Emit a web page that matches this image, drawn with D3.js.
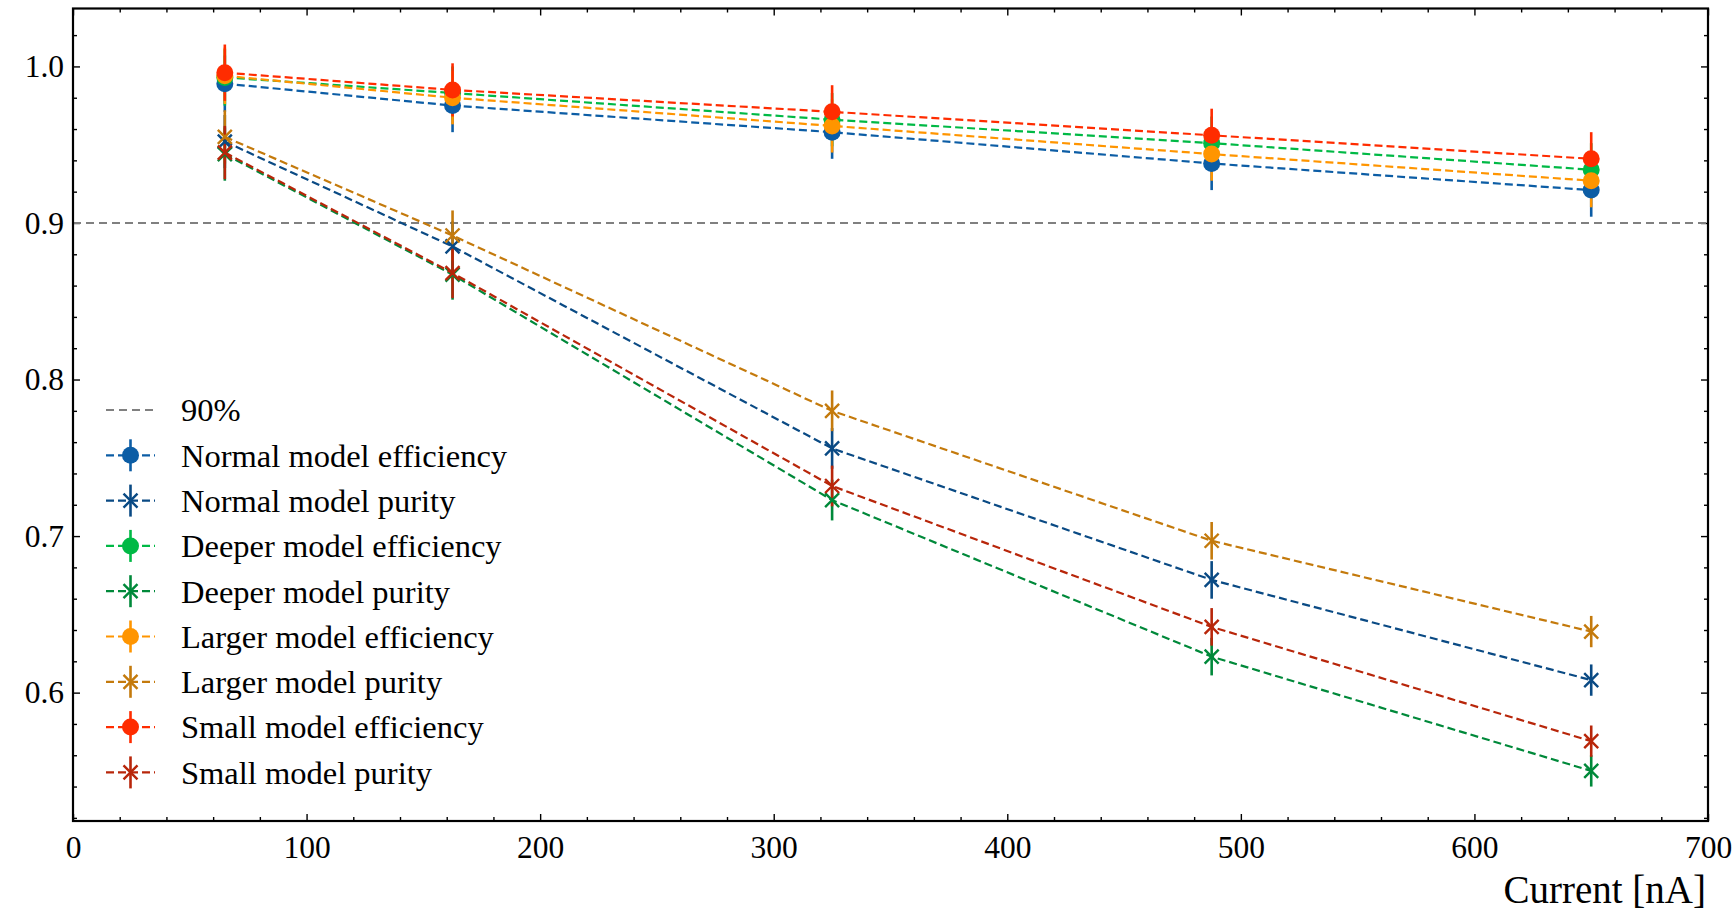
<!DOCTYPE html>
<html>
<head>
<meta charset="utf-8">
<script src="https://cdn.jsdelivr.net/npm/d3@7"></script>
<style>
body { margin: 0; background: #fff; }
text { font-family: "Liberation Serif", serif; fill: #000; }
</style>
</head>
<body>
<svg width="1734" height="912"></svg>
<script>
// beam current [nA]
var currents = [65, 162.5, 325, 487.5, 650];

var normalEff = [0.989, 0.975, 0.958, 0.938, 0.921];
var normalPur = [0.952, 0.885, 0.756, 0.672, 0.608];
var deeperEff = [0.993, 0.983, 0.966, 0.951, 0.934];
var deeperPur = [0.944, 0.867, 0.723, 0.623, 0.550];
var largerEff = [0.994, 0.980, 0.962, 0.944, 0.927];
var largerPur = [0.955, 0.892, 0.780, 0.697, 0.639];
var smallEff  = [0.996, 0.985, 0.971, 0.956, 0.941];
var smallPur  = [0.945, 0.868, 0.732, 0.642, 0.569];

var effErr = [0.018, 0.017, 0.017, 0.017, 0.017];
var purErr = [0.017, 0.016, 0.013, 0.012, 0.010];

var labels = ["Normal model efficiency", "Normal model purity",
              "Deeper model efficiency", "Deeper model purity",
              "Larger model efficiency", "Larger model purity",
              "Small model efficiency", "Small model purity"];
var colors = ["#0C5DA5", "#0A4A84", "#00B945", "#00893A",
              "#FF9500", "#C47A0C", "#FF2C00", "#B8260A"];

var threshold = 0.9, thresholdLabel = "90%";
var xTicks = [0, 100, 200, 300, 400, 500, 600, 700];
var yTicks = [0.6, 0.7, 0.8, 0.9, 1.0];
var xLabel = "Current [nA]";

var values = [normalEff, normalPur, deeperEff, deeperPur, largerEff, largerPur, smallEff, smallPur];
var series = values.map(function(v, i) {
  return {label: labels[i], color: colors[i], values: v,
          err: i % 2 == 0 ? effErr : purErr,
          marker: i % 2 == 0 ? "o" : "x"};
});

var svg = d3.select("svg"),
    pLeft = 73, pRight = 1708, pTop = 8.5, pBottom = 821;

var x = d3.scaleLinear().domain([0, 700]).range([pLeft, pRight]),
    y = d3.scaleLinear().domain([0.518, 1.037]).range([pBottom, pTop]);

var xMinor = d3.range(0, 701, 20).filter(function(d) { return d % 100 != 0; }),
    yMinor = d3.range(26, 52).map(function(i) { return i / 50; }).filter(function(d) { return Math.round(d * 50) % 5 != 0; });

function addAxis(gen, tx, ty, vals, size, fmt, pad) {
  var g = svg.append("g").attr("transform", "translate(" + tx + "," + ty + ")")
    .call(gen.tickValues(vals).tickSize(-size).tickPadding(pad || 3).tickFormat(fmt || ""));
  g.select(".domain").remove();
  g.attr("font-size", 31.5).attr("font-family", "Liberation Serif");
  g.selectAll("line").attr("stroke", "#000").attr("stroke-width", 1.4);
  return g;
}

addAxis(d3.axisBottom(x), 0, pBottom, xTicks, 7, d3.format("d"), 15);
addAxis(d3.axisBottom(x), 0, pBottom, xMinor, 4);
addAxis(d3.axisTop(x), 0, pTop, xTicks, 7);
addAxis(d3.axisTop(x), 0, pTop, xMinor, 4);
addAxis(d3.axisLeft(y), pLeft, 0, yTicks, 7, d3.format(".1f"), 9);
addAxis(d3.axisLeft(y), pLeft, 0, yMinor, 4);
addAxis(d3.axisRight(y), pRight, 0, yTicks, 7);
addAxis(d3.axisRight(y), pRight, 0, yMinor, 4);

// 90% reference line
svg.append("line")
  .attr("x1", pLeft).attr("x2", pRight)
  .attr("y1", y(threshold)).attr("y2", y(threshold))
  .attr("stroke", "#808080").attr("stroke-width", 2).attr("stroke-dasharray", "8,5");

// error bars first, then lines + markers (matplotlib zorder)
var bars = svg.append("g");
series.forEach(function(s) {
  bars.append("g").selectAll("line").data(currents).enter().append("line")
    .attr("x1", function(d) { return x(d); })
    .attr("x2", function(d) { return x(d); })
    .attr("y1", function(d, i) { return y(s.values[i] - s.err[i]); })
    .attr("y2", function(d, i) { return y(s.values[i] + s.err[i]); })
    .attr("stroke", s.color).attr("stroke-width", 2.6);
});

var line = d3.line()
  .x(function(d) { return x(d[0]); })
  .y(function(d) { return y(d[1]); });

function drawMarker(g, type, color, cx, cy) {
  if (type == "o") {
    g.append("circle").attr("cx", cx).attr("cy", cy).attr("r", 8.5).attr("fill", color);
  } else {
    var m = 7;
    g.append("path")
      .attr("d", "M" + (cx - m) + "," + (cy - m) + "L" + (cx + m) + "," + (cy + m) +
                 "M" + (cx - m) + "," + (cy + m) + "L" + (cx + m) + "," + (cy - m))
      .attr("stroke", color).attr("stroke-width", 2.4).attr("fill", "none");
  }
}

series.forEach(function(s) {
  var g = svg.append("g");
  g.append("path")
    .datum(currents.map(function(c, i) { return [c, s.values[i]]; }))
    .attr("d", line)
    .attr("fill", "none").attr("stroke", s.color)
    .attr("stroke-width", 2.2).attr("stroke-dasharray", "8,4");
  currents.forEach(function(c, i) { drawMarker(g, s.marker, s.color, x(c), y(s.values[i])); });
});

// frame
svg.append("rect")
  .attr("x", pLeft).attr("y", pTop)
  .attr("width", pRight - pLeft).attr("height", pBottom - pTop)
  .attr("fill", "none").attr("stroke", "#000").attr("stroke-width", 2.2);

// legend (no frame)
var legend = svg.append("g").attr("font-size", 32.5);
var rowY = function(i) { return 410 + i * 45.3; };

legend.append("line")
  .attr("x1", 106).attr("x2", 155).attr("y1", rowY(0)).attr("y2", rowY(0))
  .attr("stroke", "#808080").attr("stroke-width", 2).attr("stroke-dasharray", "8,5");
legend.append("text").attr("x", 181).attr("y", rowY(0)).attr("dy", "0.35em").text(thresholdLabel);

series.forEach(function(s, i) {
  var ly = rowY(i + 1), g = legend.append("g");
  g.append("line").attr("x1", 106).attr("x2", 155).attr("y1", ly).attr("y2", ly)
    .attr("stroke", s.color).attr("stroke-width", 2.2).attr("stroke-dasharray", "8,4");
  g.append("line").attr("x1", 130.5).attr("x2", 130.5).attr("y1", ly - 16).attr("y2", ly + 16)
    .attr("stroke", s.color).attr("stroke-width", 2.6);
  drawMarker(g, s.marker, s.color, 130.5, ly);
  g.append("text").attr("x", 181).attr("y", ly).attr("dy", "0.35em").text(s.label);
});

// x axis label
svg.append("text")
  .attr("x", 1706).attr("y", 903)
  .attr("text-anchor", "end").attr("font-size", 39)
  .text(xLabel);
</script>
</body>
</html>
